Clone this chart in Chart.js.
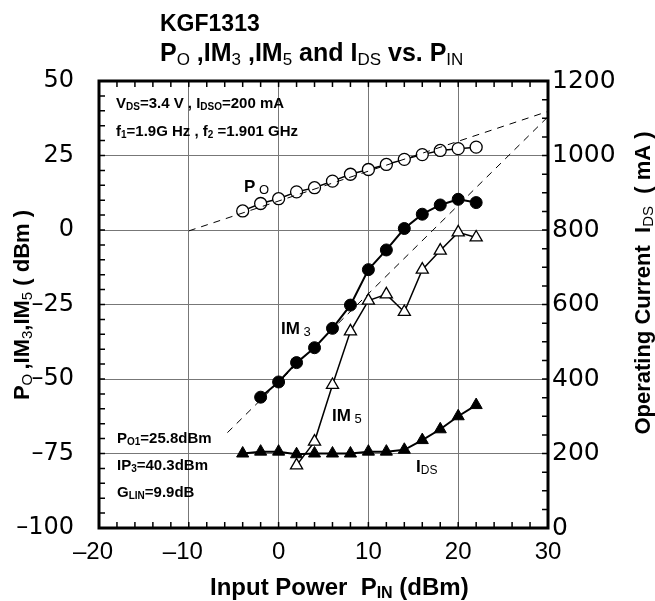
<!DOCTYPE html>
<html>
<head>
<meta charset="utf-8">
<script src="https://cdn.jsdelivr.net/npm/chart.js@4.4.0/dist/chart.umd.min.js"></script>
<style>
  html, body { margin: 0; padding: 0; background: #fff; }
  #kgf { display: block; }
</style>
</head>
<body>
<canvas id="kgf" width="655" height="601"></canvas>
<script>
// input power (dBm), shared by all curves
var pin = [-4, -2, 0, 2, 4, 6, 8, 10, 12, 14, 16, 18, 20, 22];
var po  = [6.4, 8.9, 10.5, 12.8, 14.2, 16.4, 18.7, 20.3, 22.0, 23.7, 25.3, 26.7, 27.3, 27.8];
var im3 = [null, -56.1, -51.0, -44.5, -39.5, -33.0, -25.2, -13.3, -6.7, 0.5, 5.3, 8.4, 10.3, 9.2];
var im5 = [null, null, null, -79.0, -71.0, -52.0, -34.0, -23.7, -21.6, -27.5, -13.3, -6.9, -0.8, -2.5];
var ids = [200, 205, 205, 198, 200, 200, 200, 205, 205, 210, 236, 265, 300, 330];

// dashed extrapolation lines (end points)
var poFitX = [-10, 30];
var poFitY = [-0.3, 39.8];
var im3FitX = [-5.7, 30];
var im3FitY = [-68, 38];

function pts(xs, ys) {
    var out = [];
    for (var i = 0; i < xs.length; i++) {
        if (ys[i] !== null) out.push({x: xs[i], y: ys[i]});
    }
    return out;
}

var FAM = "'Liberation Sans', Arial, sans-serif";

// draws text with subscripts: parts = [[text, ''|'s'], ...]
function rich(ctx, parts, x, y, o) {
    var size = o.size;
    var sub = o.sub || Math.round(size * 0.68);
    var drop = (o.drop !== undefined) ? o.drop : Math.round(size * 0.2);
    var fontFor = function (p) {
        return p[1] === 's' ? (o.subWeight || 'normal') + ' ' + sub + 'px ' + FAM
                            : 'bold ' + size + 'px ' + FAM;
    };
    ctx.save();
    ctx.translate(x, y);
    if (o.angle) ctx.rotate(o.angle);
    var w = 0;
    parts.forEach(function (p) { ctx.font = fontFor(p); w += ctx.measureText(p[0]).width; });
    var cx = o.align === 'center' ? -w / 2 : 0;
    ctx.fillStyle = '#000';
    ctx.textAlign = 'left';
    ctx.textBaseline = 'alphabetic';
    parts.forEach(function (p) {
        ctx.font = fontFor(p);
        ctx.fillText(p[0], cx, p[1] === 's' ? drop : 0);
        cx += ctx.measureText(p[0]).width;
    });
    ctx.restore();
}

var frame = {
    id: 'frame',
    beforeDatasetsDraw: function (chart) {
        var ctx = chart.ctx, a = chart.chartArea;
        var sx = chart.scales.x, sy = chart.scales.y, sy2 = chart.scales.y2;
        ctx.save();
        ctx.strokeStyle = '#000';
        ctx.lineWidth = 1.5;
        ctx.beginPath();
        var v, p;
        for (v = -18; v < 30; v += 2) {
            p = sx.getPixelForValue(v);
            ctx.moveTo(p, a.top); ctx.lineTo(p, a.top + 6);
            ctx.moveTo(p, a.bottom); ctx.lineTo(p, a.bottom - 6);
        }
        for (v = -95; v < 50; v += 5) {
            p = sy.getPixelForValue(v);
            ctx.moveTo(a.left, p); ctx.lineTo(a.left + 6, p);
        }
        for (v = 50; v < 1200; v += 50) {
            p = sy2.getPixelForValue(v);
            ctx.moveTo(a.right, p); ctx.lineTo(a.right - 6, p);
        }
        ctx.stroke();
        ctx.lineWidth = 3;
        ctx.strokeRect(a.left, a.top, a.right - a.left, a.bottom - a.top);
        ctx.restore();
    },
    afterDraw: function (chart) {
        var ctx = chart.ctx;
        rich(ctx, [['KGF1313', '']], 160, 31, {size: 23});
        rich(ctx, [['P', ''], ['O', 's'], [' ,IM', ''], ['3', 's'], [' ,IM', ''], ['5', 's'],
                   [' and I', ''], ['DS', 's'], [' vs. P', ''], ['IN', 's']], 160, 61, {size: 25, sub: 17, drop: 4});

        rich(ctx, [['V', ''], ['DS', 's'], ['=3.4 V , I', ''], ['DSO', 's'], ['=200 mA', '']], 116, 108, {size: 15, sub: 10, drop: 2, subWeight: 'bold'});
        rich(ctx, [['f', ''], ['1', 's'], ['=1.9G Hz , f', ''], ['2', 's'], [' =1.901 GHz', '']], 116, 136, {size: 15, sub: 10, drop: 2, subWeight: 'bold'});

        rich(ctx, [['P', ''], [' O', 's']], 244, 192, {size: 17, sub: 13, drop: 2});
        rich(ctx, [['IM', ''], [' 3', 's']], 281, 334, {size: 17, sub: 13, drop: 2});
        rich(ctx, [['IM', ''], [' 5', 's']], 332, 421, {size: 17, sub: 13, drop: 2});
        rich(ctx, [['I', ''], ['DS', 's']], 416, 472, {size: 17, sub: 12, drop: 2});

        rich(ctx, [['P', ''], ['O1', 's'], ['=25.8dBm', '']], 117, 443, {size: 15, sub: 10, drop: 2, subWeight: 'bold'});
        rich(ctx, [['IP', ''], ['3', 's'], ['=40.3dBm', '']], 117, 470, {size: 15, sub: 10, drop: 2, subWeight: 'bold'});
        rich(ctx, [['G', ''], ['LIN', 's'], ['=9.9dB', '']], 117, 497, {size: 15, sub: 10, drop: 2, subWeight: 'bold'});

        rich(ctx, [['Input Power  P', ''], ['IN', 's'], [' (dBm)', '']], 210, 595, {size: 24, sub: 16, drop: 3, subWeight: 'bold'});
        rich(ctx, [['P', ''], ['O ', 's'], [',IM', ''], ['3', 's'], [',IM', ''], ['5', 's'], [' ( dBm )', '']],
             29, 305, {size: 22, sub: 15, drop: 3, align: 'center', angle: -Math.PI / 2});
        rich(ctx, [['Operating Current  I', ''], ['DS', 's'], ['  ( mA )', '']],
             650, 283, {size: 22, sub: 15, drop: 3, align: 'center', angle: -Math.PI / 2});
    }
};

function minus(v) {
    return v < 0 ? '\u2013' + Math.abs(v) : String(v);
}

var gridCol = function (edgeA, edgeB) {
    return function (c) {
        var v = c.tick.value;
        return (v === edgeA || v === edgeB) ? 'rgba(0,0,0,0)' : '#777';
    };
};

var bottomFont = {family: "'Liberation Sans', Arial, sans-serif", size: 24};
var leftFont = {family: "'DejaVu Sans', sans-serif", size: 24};
var rightFont = {family: "'DejaVu Sans', sans-serif", size: 25};

new Chart(document.getElementById('kgf'), {
    type: 'scatter',
    data: {
        datasets: [
            {
                label: 'Po fit', data: pts(poFitX, poFitY), showLine: true,
                borderColor: '#000', borderWidth: 1, borderDash: [7, 6], pointRadius: 0
            },
            {
                label: 'IM3 fit', data: pts(im3FitX, im3FitY), showLine: true,
                borderColor: '#000', borderWidth: 1, borderDash: [7, 6], pointRadius: 0
            },
            {
                label: 'Po', data: pts(pin, po), showLine: true,
                borderColor: '#000', borderWidth: 1.5,
                pointStyle: 'circle', pointRadius: 6, pointBorderWidth: 1.3,
                pointBackgroundColor: '#fff', pointBorderColor: '#000'
            },
            {
                label: 'IM3', data: pts(pin, im3), showLine: true,
                borderColor: '#000', borderWidth: 2,
                pointStyle: 'circle', pointRadius: 6, pointBorderWidth: 1,
                pointBackgroundColor: '#000', pointBorderColor: '#000'
            },
            {
                label: 'IM5', data: pts(pin, im5), showLine: true,
                borderColor: '#000', borderWidth: 1.5,
                pointStyle: 'triangle', pointRadius: 7, pointBorderWidth: 1.3,
                pointBackgroundColor: '#fff', pointBorderColor: '#000'
            },
            {
                label: 'IDS', data: pts(pin, ids), showLine: true, yAxisID: 'y2',
                borderColor: '#000', borderWidth: 2,
                pointStyle: 'triangle', pointRadius: 7, pointBorderWidth: 1,
                pointBackgroundColor: '#000', pointBorderColor: '#000'
            }
        ]
    },
    options: {
        responsive: false,
        animation: false,
        layout: {padding: {top: 81, left: 0, right: 0, bottom: 0}},
        plugins: {
            legend: {display: false},
            tooltip: {enabled: false}
        },
        scales: {
            x: {
                type: 'linear', min: -20, max: 30,
                afterFit: function (s) { s.height = 73; },
                border: {display: false},
                grid: {color: gridCol(-20, 30), lineWidth: 1, drawTicks: false},
                ticks: {
                    stepSize: 10, padding: 10, color: '#000', font: bottomFont, maxRotation: 0,
                    callback: function (v) { return v < 0 ? minus(v) + '\u2002' : String(v); }
                }
            },
            y: {
                position: 'left', min: -100, max: 50,
                afterFit: function (s) { s.width = 99; },
                border: {display: false},
                grid: {color: gridCol(-100, 50), lineWidth: 1, drawTicks: false},
                ticks: {stepSize: 25, padding: 25, color: '#000', font: leftFont, callback: minus}
            },
            y2: {
                position: 'right', min: 0, max: 1200,
                afterFit: function (s) { s.width = 107; },
                border: {display: false},
                grid: {drawOnChartArea: false, drawTicks: false},
                ticks: {
                    stepSize: 200, padding: 4, color: '#000', font: rightFont,
                    callback: function (v) { return String(v); }
                }
            }
        }
    },
    plugins: [frame]
});
</script>
</body>
</html>
